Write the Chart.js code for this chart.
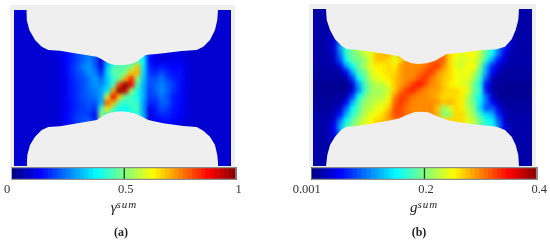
<!DOCTYPE html>
<html>
<head>
<meta charset="utf-8">
<script src="https://cdn.jsdelivr.net/npm/chart.js@4/dist/chart.umd.js"></script>
<style>
  body { margin: 0; background: #fff; overflow: hidden; }
  #page { position: relative; width: 550px; height: 244px; filter: blur(0.35px); }
  #page canvas, .panelBg, .txt { position: absolute; }
  .panelBg { background: #efefef; }
  .txt { font-family: "Liberation Serif", serif; color: #222; white-space: nowrap; transform: translateX(-50%); }
  .sym { font-size: 15px; font-style: italic; }
  .sym sup { font-size: 11px; letter-spacing: 1px; vertical-align: 4px; line-height: 0; }
  .cap { font-size: 12px; font-weight: bold; }
</style>
</head>
<body>
<div id="page">
  <div class="panelBg" style="left:10px;top:5px;width:225px;height:163px"></div>
  <div class="panelBg" style="left:309px;top:4px;width:227px;height:164px"></div>
  <canvas id="heatA" width="217" height="156" style="left:14px;top:10px"></canvas>
  <canvas id="heatB" width="219" height="157" style="left:313px;top:9px"></canvas>
  <canvas id="barA" width="250" height="32" style="left:0;top:167px"></canvas>
  <canvas id="barB" width="265" height="32" style="left:285px;top:167px"></canvas>
  <div class="txt sym" style="left:124px;top:199px">γ<sup>sum</sup></div>
  <div class="txt sym" style="left:424px;top:199px">g<sup>sum</sup></div>
  <div class="txt cap" style="left:121px;top:225px">(a)</div>
  <div class="txt cap" style="left:419px;top:225px">(b)</div>
</div>
<script>
//field values, percent of the colour scale, 36 columns x 26 rows
const gammaRows = [
  [8,8,8,8,8,8,8,8,8,8,8,8,8,8,8,8,8,8,8,8,8,8,8,8,8,8,8,8,8,8,8,8,8,8,8,8],
  [8,8,8,8,8,8,8,8,8,8,8,8,8,8,8,8,8,8,8,8,8,8,8,8,8,8,8,8,8,8,8,8,8,8,8,8],
  [8,8,8,8,8,8,8,8,8,8,8,8,8,8,8,8,8,8,8,8,8,8,8,8,8,8,8,8,8,8,8,8,8,8,8,8],
  [8,8,8,8,8,8,8,8,8,8,8,8,8,8,8,8,8,8,8,8,8,8,8,8,8,8,8,8,8,8,8,8,8,8,8,8],
  [8,8,8,8,8,8,8,8,8,8,8,8,8,8,8,8,8,8,8,8,8,8,8,8,8,8,8,8,8,8,8,8,8,8,8,8],
  [8,8,8,8,8,8,8,8,8,8,8,8,8,8,8,8,8,8,8,8,8,8,8,8,8,8,8,8,8,8,8,8,8,8,8,8],
  [8,8,8,8,8,8,8,9,12,15,19,22,24,24,12,25,30,32,34,36,36,36,14,10,9,9,9,10,8,8,8,8,8,8,8,8],
  [8,8,8,8,8,8,9,10,12,15,19,22,24,24,10,24,30,32,34,36,36,36,14,10,9,9,9,10,8,8,8,8,8,8,8,8],
  [8,8,8,8,8,8,8,9,12,15,19,22,26,20,8,28,38,42,44,44,46,38,13,10,10,10,11,11,9,8,8,8,8,8,8,8],
  [8,8,8,8,8,8,8,9,12,16,20,25,27,22,10,32,44,46,46,50,68,36,16,13,15,14,12,13,10,8,8,8,8,8,8,8],
  [8,8,8,8,8,8,8,9,12,16,19,22,27,25,16,34,46,46,50,68,70,34,18,16,20,16,14,14,10,8,8,8,8,8,8,8],
  [8,8,8,8,8,8,8,9,11,15,18,20,24,28,22,32,42,48,70,84,52,32,20,20,24,19,16,14,10,8,8,8,8,8,8,8],
  [8,8,8,8,8,8,8,9,11,15,17,20,24,27,26,32,44,82,100,88,46,30,20,22,25,22,18,14,10,8,8,8,8,8,8,8],
  [8,8,8,8,8,8,8,9,11,15,17,20,23,25,28,36,72,100,92,52,40,30,18,22,26,22,17,14,10,8,8,8,8,8,8,8],
  [8,8,8,8,8,8,8,9,11,15,17,20,22,24,28,58,88,68,46,44,40,30,18,19,24,20,15,13,10,8,8,8,8,8,8,8],
  [8,8,8,8,8,8,8,9,11,14,17,19,21,20,30,78,70,44,42,44,42,28,16,16,22,21,15,13,10,8,8,8,8,8,8,8],
  [8,8,8,8,8,8,8,9,11,14,17,18,20,17,44,66,46,40,38,42,44,28,10,15,20,18,14,13,10,8,8,8,8,8,8,8],
  [8,8,8,8,8,8,8,9,12,15,18,19,18,13,52,42,40,36,36,40,42,30,9,14,16,16,14,12,10,8,8,8,8,8,8,8],
  [8,8,8,8,8,8,8,9,12,15,19,20,22,15,50,42,40,36,36,40,40,30,9,11,13,14,12,11,9,8,8,8,8,8,8,8],
  [8,8,8,8,8,8,8,9,10,12,15,16,16,12,12,12,12,12,12,12,12,12,9,9,9,9,9,9,8,8,8,8,8,8,8,8],
  [8,8,8,8,8,8,8,8,8,8,8,8,8,8,8,8,8,8,8,8,8,8,8,8,8,8,8,8,8,8,8,8,8,8,8,8],
  [8,8,8,8,8,8,8,8,8,8,8,8,8,8,8,8,8,8,8,8,8,8,8,8,8,8,8,8,8,8,8,8,8,8,8,8],
  [8,8,8,8,8,8,8,8,8,8,8,8,8,8,8,8,8,8,8,8,8,8,8,8,8,8,8,8,8,8,8,8,8,8,8,8],
  [8,8,8,8,8,8,8,8,8,8,8,8,8,8,8,8,8,8,8,8,8,8,8,8,8,8,8,8,8,8,8,8,8,8,8,8],
  [8,8,8,8,8,8,8,8,8,8,8,8,8,8,8,8,8,8,8,8,8,8,8,8,8,8,8,8,8,8,8,8,8,8,8,8],
  [8,8,8,8,8,8,8,8,8,8,8,8,8,8,8,8,8,8,8,8,8,8,8,8,8,8,8,8,8,8,8,8,8,8,8,8],
];
const gRows = [
  [4,4,4,4,4,4,4,4,4,4,4,4,4,4,4,4,4,4,4,4,4,4,4,4,4,4,4,4,4,4,4,4,4,4,4,4],
  [4,4,4,4,4,4,4,4,4,4,4,4,4,4,4,4,4,4,4,4,4,4,4,4,4,4,4,4,4,4,4,4,4,4,4,4],
  [4,4,4,4,4,4,4,4,4,4,4,4,4,4,4,4,4,4,4,4,4,4,4,4,4,4,4,4,4,4,4,4,4,4,4,4],
  [4,4,4,5,5,5,5,5,5,5,5,5,5,5,5,5,5,5,5,5,5,5,5,5,5,5,5,5,5,5,5,5,4,4,4,4],
  [4,4,5,6,12,20,30,30,30,30,30,30,30,30,30,30,30,30,30,30,30,30,30,30,30,30,30,30,30,20,12,8,5,4,4,4],
  [4,4,5,8,25,40,50,55,60,60,60,60,60,60,60,60,60,60,60,60,60,60,60,58,58,60,60,56,48,38,25,18,8,4,4,4],
  [4,4,5,9,28,42,50,55,60,60,60,60,60,60,60,60,60,60,60,60,60,60,60,58,58,60,60,56,48,38,25,14,6,4,4,4],
  [4,4,4,7,24,42,48,52,56,60,68,70,70,60,72,74,74,74,76,76,76,76,66,62,60,62,62,56,46,38,24,10,5,4,4,4],
  [4,4,4,7,20,38,48,48,52,60,68,68,66,60,66,74,74,74,74,76,78,78,66,60,58,60,60,55,42,28,14,8,4,4,4,4],
  [4,4,4,4,10,28,38,48,54,60,64,64,66,64,72,74,74,74,76,80,82,74,66,60,58,62,62,50,30,16,8,5,4,4,4,4],
  [3,3,3,3,3,12,30,44,48,58,62,64,66,66,72,74,74,76,80,82,74,70,66,62,60,62,56,46,28,12,6,3,3,3,3,3],
  [3,3,3,3,3,4,18,38,46,56,60,62,64,68,72,74,74,80,82,76,72,68,66,62,60,60,54,42,22,6,3,3,3,3,3,3],
  [2,2,2,2,2,2,8,28,44,52,56,56,62,68,72,76,82,86,80,74,72,68,64,62,60,58,48,40,14,5,2,2,2,2,2,2],
  [2,2,2,2,2,2,8,26,42,52,54,54,58,68,76,82,84,78,74,72,72,68,66,66,64,60,48,42,14,4,2,2,2,2,2,2],
  [2,2,2,3,3,5,18,38,48,54,54,56,60,74,82,80,76,74,74,72,70,66,66,66,64,56,46,38,22,8,3,2,2,2,2,2],
  [3,3,3,3,4,12,30,44,52,54,58,58,64,78,82,78,74,74,74,74,72,68,70,66,64,54,48,36,24,12,6,3,3,3,3,3],
  [3,3,3,4,8,22,38,46,54,56,60,62,68,80,80,76,74,74,74,74,68,52,58,66,64,56,50,34,20,22,10,5,3,3,3,3],
  [4,4,4,6,14,30,42,48,56,60,62,66,72,80,80,76,74,74,74,74,70,50,52,66,66,58,52,42,34,30,16,7,4,4,4,4],
  [4,4,4,8,24,38,46,54,58,62,66,68,72,76,76,76,74,74,74,74,70,66,66,66,66,60,56,48,40,36,22,8,4,4,4,4],
  [4,4,5,12,30,44,50,56,60,64,66,68,70,70,70,70,70,70,70,70,70,70,70,70,66,60,56,46,42,40,25,10,5,4,4,4],
  [4,4,5,10,26,40,50,56,60,64,66,68,70,70,70,70,70,70,70,70,70,70,70,70,66,60,56,46,42,40,20,7,5,4,4,4],
  [4,4,5,7,12,30,30,30,30,30,30,30,30,30,30,30,30,30,30,30,30,30,30,30,30,30,30,30,30,20,12,10,5,4,4,4],
  [4,4,4,4,5,5,5,5,5,5,5,5,5,5,5,5,5,5,5,5,5,5,5,5,5,5,5,5,5,5,5,5,4,4,4,4],
  [4,4,4,4,4,4,4,4,4,4,4,4,4,4,4,4,4,4,4,4,4,4,4,4,4,4,4,4,4,4,4,4,4,4,4,4],
  [4,4,4,4,4,4,4,4,4,4,4,4,4,4,4,4,4,4,4,4,4,4,4,4,4,4,4,4,4,4,4,4,4,4,4,4],
  [4,4,4,4,4,4,4,4,4,4,4,4,4,4,4,4,4,4,4,4,4,4,4,4,4,4,4,4,4,4,4,4,4,4,4,4],
];

//grip outlines, in picture units
const gripTopAX = [26.3,26.7,29.3,35,41.7,48.3,60,71.7,96.7,101.7,108.3,115,121.7,130,136.7,145.7,163.3,181.7,196.7,203.3,210,215,217.3,218];
const gripTopAY = [10,20,30,40,46.7,50,50.7,52.7,56.7,59.3,63.3,65,65.3,64.3,61.7,55,53.3,51,50,46.7,40,30,20,10];
const gripBotAX = [26.7,27.3,30,35,41.7,48.3,60,96.7,101.7,108.3,115,121.7,128.3,136.7,148.3,163.3,183.3,196.7,203.3,210,215,217.3,218.3];
const gripBotAY = [166,155,145,136.7,130,127,126.3,120,116.7,113.3,111.7,111.3,112,114,120,123.3,126,127,130.7,136.7,145,155,166];
const gripTopBX = [326,326.7,330,335,341.7,346.7,356.7,375,398.3,405,411.7,418.3,426.7,435,446.7,461.7,483.3,496.7,505,511.7,515.7,518.3,519];
const gripTopBY = [9,20,30,39.3,46,49,49.7,52.3,56,60.7,63.3,64,63.3,60.7,54,52.7,50,49.3,46.7,39.3,30,20,9];
const gripBotBX = [326,327.3,330,335,341.7,346.7,356.7,375,398.3,406.7,415,421.7,428.3,438.3,450,471.7,496.7,505,511.7,515.7,518.3,519];
const gripBotBY = [166,155,145,136.7,129.3,126.7,126,123.3,118.7,115,112,111.7,112.3,116.7,120.7,124,126.7,130,136.7,145,155,166];

//colour bars
const colorBands = [0,.02,.04,.06,.08,.1,.12,.14,.16,.18,.2,.22,.24,.26,.28,.3,.32,.34,.36,.38,.4,.42,.44,.46,.48,.5,.52,.54,.56,.58,.6,.62,.64,.66,.68,.7,.72,.74,.76,.78,.8,.82,.84,.86,.88,.9,.92,.94,.96,.98];
const barTicksA = ["0", "0.5", "1"];
const barTicksB = ["0.001", "0.2", "0.4"];
const GREY = "#efefef";

//jet colour map
const jetStops = [0, 0.125, 0.375, 0.5, 0.625, 0.875, 1];
const jetColors = [[0,0,128],[0,0,255],[0,255,255],[128,255,128],[255,255,0],[255,0,0],[128,0,0]];
function jet(v) {
  v = Math.min(1, Math.max(0, v));
  let i = 0;
  while (i < jetStops.length - 2 && v > jetStops[i + 1]) i++;
  const t = (v - jetStops[i]) / (jetStops[i + 1] - jetStops[i]);
  const c = jetColors[i].map((a, k) => Math.round(a + (jetColors[i + 1][k] - a) * t));
  return "rgb(" + c.join(",") + ")";
}

//soften the hard cells once they are drawn
const softenCells = {
  id: "softenCells",
  afterDatasetDraw(chart, args) {
    if (args.index !== 0) return;
    const ctx = chart.ctx;
    ctx.save();
    ctx.filter = "blur(2.2px)";
    ctx.drawImage(chart.canvas, 0, 0);
    ctx.restore();
  },
};

function drawHeat(id, rows, xMin, xMax, yMin, yMax, topX, topY, botX, botY) {
  const cellW = (xMax - xMin) / rows[0].length;
  const cellH = (yMax - yMin) / rows.length;
  const cells = [];
  rows.forEach((row, r) => {
    row.forEach((v, c) => {
      cells.push({ x: xMin + cellW * (c + 0.5), y: yMin + cellH * (r + 0.5), v: v / 100 });
    });
  });
  new Chart(document.getElementById(id), {
    type: "scatter",
    data: {
      datasets: [
        {
          data: cells,
          pointStyle: "rect",
          pointRadius: Math.max(cellW, cellH) * 0.75,
          pointBorderWidth: 0,
          pointBackgroundColor: (c) => jet(c.raw.v),
          order: 3,
        },
        {
          data: topX.map((x, i) => ({ x: x, y: topY[i] })),
          showLine: true,
          pointRadius: 0,
          borderWidth: 0,
          borderColor: GREY,
          backgroundColor: GREY,
          fill: { value: yMin },
          order: 1,
        },
        {
          data: botX.map((x, i) => ({ x: x, y: botY[i] })),
          showLine: true,
          pointRadius: 0,
          borderWidth: 0,
          borderColor: GREY,
          backgroundColor: GREY,
          fill: { value: yMax },
          order: 1,
        },
      ],
    },
    options: {
      responsive: false,
      animation: false,
      layout: { autoPadding: false },
      plugins: { legend: { display: false }, tooltip: { enabled: false } },
      scales: {
        x: { type: "linear", min: xMin, max: xMax, display: false },
        y: { type: "linear", min: yMin, max: yMax, reverse: true, display: false },
      },
    },
    plugins: [softenCells],
  });
}

function drawBar(id, labels, barLeft, barWidth, tickNudge) {
  const canvas = document.getElementById(id);
  const left = -barLeft / barWidth;
  const right = (canvas.width - barLeft) / barWidth;
  const tickAt = [0, 0.5, 1].map((v, i) => v + tickNudge[i] / barWidth);
  const sets = colorBands.map((b) => ({
    data: [[b, b + 0.02]],
    backgroundColor: jet(b + 0.01),
    borderWidth: 0,
    order: 2,
  }));
  sets.unshift({ data: [[0.4985, 0.5015]], backgroundColor: "#2b3a2b", borderWidth: 0, order: 1 });
  sets.unshift({ data: [[0, 1]], backgroundColor: "transparent", borderColor: "#8c8c8c", borderWidth: 1, order: 0 });
  new Chart(canvas, {
    type: "bar",
    data: { labels: [""], datasets: sets },
    options: {
      indexAxis: "y",
      responsive: false,
      animation: false,
      grouped: false,
      barPercentage: 1,
      categoryPercentage: 1,
      layout: { autoPadding: false },
      plugins: { legend: { display: false }, tooltip: { enabled: false } },
      scales: {
        y: { display: false },
        x: {
          type: "linear",
          min: left,
          max: right,
          grid: { display: false, drawTicks: false, tickLength: 0 },
          border: { display: false },
          afterBuildTicks: (axis) => {
            axis.ticks = tickAt.map((v) => ({ value: v }));
          },
          afterFit: (axis) => {
            axis.height = 19;
          },
          ticks: {
            autoSkip: false,
            maxRotation: 0,
            padding: 2,
            color: "#333",
            font: { family: "Liberation Serif", size: 12.5 },
            callback: (v, i) => labels[i],
          },
        },
      },
    },
  });
}

drawHeat("heatA", gammaRows, 14, 231, 10, 166, gripTopAX, gripTopAY, gripBotAX, gripBotAY);
drawHeat("heatB", gRows, 313, 532, 9, 166, gripTopBX, gripTopBY, gripBotBX, gripBotBY);
drawBar("barA", barTicksA, 12, 224.5, [-5, 1.5, 2]);
drawBar("barB", barTicksB, 26.7, 225.5, [-5, 1.5, 2]);
</script>
</body>
</html>
